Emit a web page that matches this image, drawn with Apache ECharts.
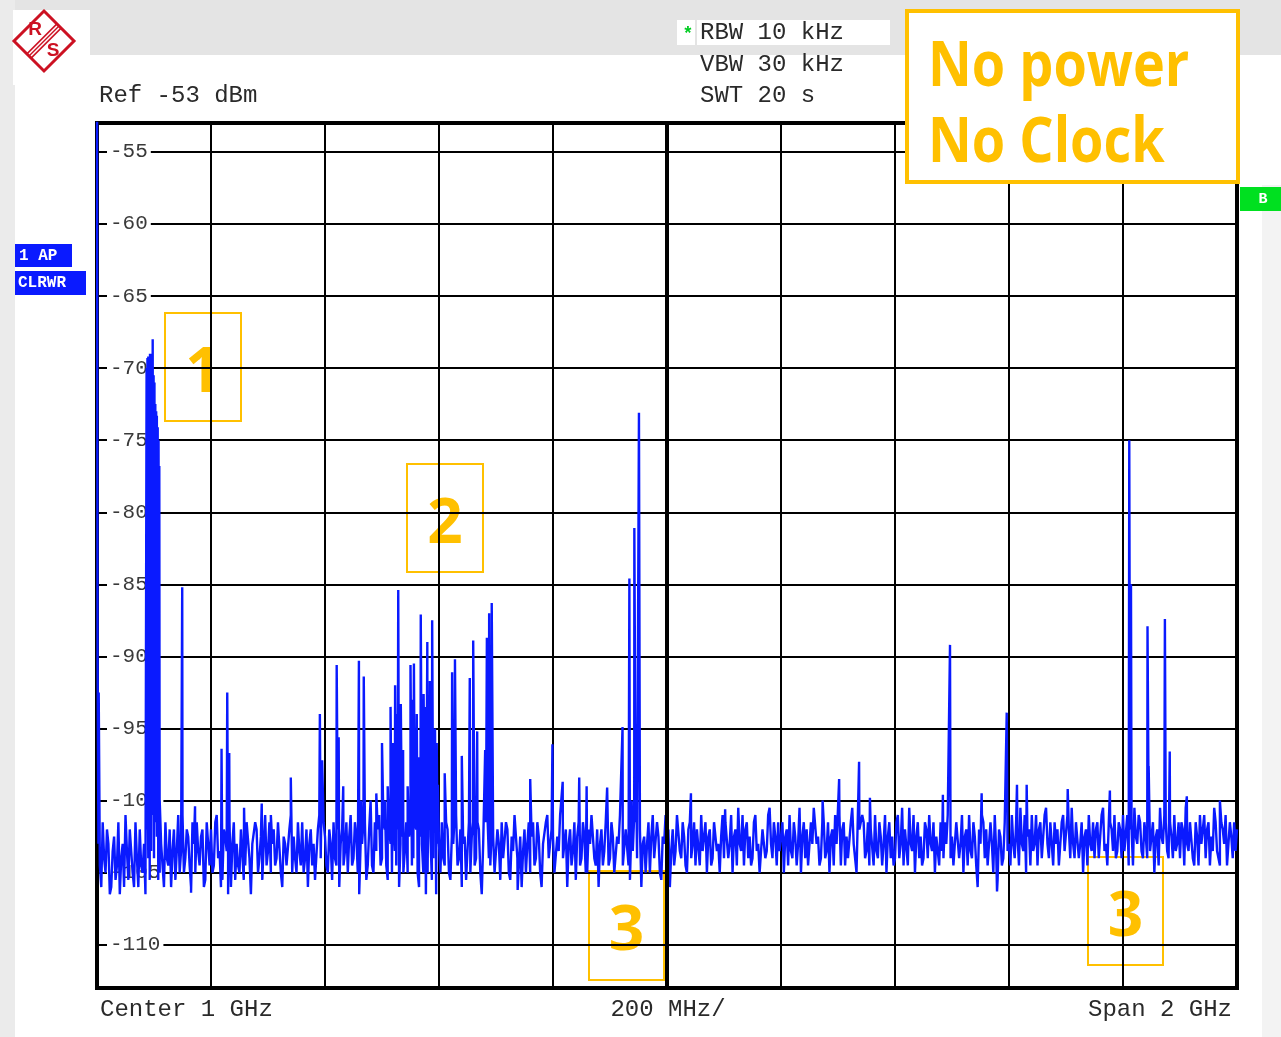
<!DOCTYPE html>
<html><head><meta charset="utf-8">
<script src="https://cdn.jsdelivr.net/npm/echarts@6/dist/echarts.min.js"></script>
<style>html,body{margin:0;padding:0;background:#fff;}#c{width:1281px;height:1037px;}</style>
</head><body><div id="c"></div>
<script>
// Frequency span (MHz) and level range (dBm)
const spanStartMHz = 0;
const spanEndMHz = 2000;
const refLevel = -53;
const bottomLevel = -113;

// Trace floor sampled every 5 MHz, 0 .. 2000 MHz (dBm)
const traceFloor = [
  -48,-104.5,-101.5,-105,-103,-106,-102.5,-104.5,-106.5,-103,-101,-105.5,-103.5,-106,-104,-102,-105,-106.5,-104,-103.5,
  -104,-102.5,-105,-103,-101.5,-104.5,-106,-102,-103.5,-105,-101,-104,-102.5,-106,-103,-101.5,-104.5,-102,-105.5,-103,
  -102,-104.5,-101,-103.5,-105.5,-102.5,-104,-106,-101.5,-103,-105,-102,-104.5,-101.5,-106.5,-103,-102,-104,-105.5,-101,
  -103.5,-105,-102,-104,-101.5,-106,-103,-104.5,-101,-102.5,-105,-103.5,-101.5,-104,-106,-102,-103,-105.5,-101,-104,
  -102.5,-105,-103,-101.5,-104.5,-106,-102,-103.5,-105,-101,-104,-102.5,-106.5,-103,-101.5,-104.5,-102,-105,-103.5,-101,
  -104,-102,-105.5,-103,-101,-104.5,-106,-102.5,-103.5,-105,-101.5,-104,-102,-106,-103,-101.5,-105,-102.5,-104,-106.5,
  -103,-101.5,-104.5,-102,-105.5,-103,-101,-104,-106,-102.5,-103.5,-105,-101.5,-104,-102,-106.5,-103,-101,-104.5,-102.5,
  -105,-103,-101.5,-104,-102,-105.5,-103.5,-101,-104.5,-106,-102,-103,-105,-101.5,-104,-102.5,-106,-103,-101,-104,
  -102.5,-105,-103.5,-101,-104,-106,-102,-103.5,-105.5,-101.5,-104,-102.5,-105,-103,-101,-104.5,-106,-102,-103.5,-101.5,
  -104,-102.5,-105,-103,-101,-104.5,-102,-105.5,-103.5,-101.5,-104,-106,-102.5,-103,-105,-101,-104,-102.5,-105.5,-103,
  -104.5,-106,-102,-103.5,-101,-104,-102.5,-105,-101.5,-103,-104.5,-102,-101,-103.5,-105,-102,-104,-101.5,-103,-102.5,
  -104,-101.5,-103,-105,-102,-100.5,-103.5,-104.5,-101.5,-102.5,-104,-101,-103,-105,-102,-103.5,-100.5,-104,-102.5,-101.5,
  -103.5,-105,-102,-101,-104,-102.5,-103,-105,-101.5,-102,-104.5,-103,-100.5,-102.5,-104,-101.5,-103.5,-105,-102,-101,
  -103,-104.5,-101.5,-102.5,-104,-100.5,-103,-105,-102,-101.5,-103.5,-104.5,-102,-101,-104,-102.5,-103,-105,-101.5,-102.5,
  -104,-101,-103,-104.5,-102,-100.5,-103.5,-105,-101.5,-102.5,-104,-102,-101,-103.5,-105,-102.5,-101.5,-104,-103,-101,
  -102.5,-104.5,-101.5,-103,-105,-102,-101,-104,-102.5,-106,-103,-101.5,-102,-104.5,-103,-101,-105.5,-102.5,-104,-101.5,
  -103,-101,-104,-102.5,-100.5,-103.5,-105,-102,-101,-103,-104.5,-101.5,-102.5,-100.5,-104,-103,-101.5,-102,-104.5,-101,
  -103.5,-102,-100.5,-104,-101.5,-103,-105,-102,-101,-103.5,-104,-101.5,-102.5,-100.5,-103,-104.5,-102,-101,-103.5,-102,
  -101,-103.5,-104.5,-102,-100.5,-103,-101.5,-104,-102.5,-101,-103.5,-105,-102,-100.5,-103,-101.5,-104,-102.5,-101,-103,
  -104,-102,-100.5,-103.5,-101.5,-104.5,-102.5,-101,-103,-104,-101.5,-102.5,-100.5,-103.5,-104.5,-102,-101,-103,-102.5,-101.5,
  -102
];

// Trace floor between the above samples: 2.5, 7.5, ... 1997.5 MHz (dBm)
const traceFloorMid = [
  -103,-106,-104,-102,-106.5,-103.5,-105.5,-101.5,-104,-106,-103.5,-102,-105,-101.5,-106,-104.5,-103,-102,-105.5,-101,
  -101.5,-105.5,-103,-106,-104,-102,-103.5,-105.5,-101,-103.5,-105,-102,-104.5,-101.5,-105,-103.5,-102.5,-106,-101.5,-104.5,
  -105,-101.5,-104,-106,-102,-103.5,-101.5,-103,-105.5,-104.5,-102,-105.5,-101.5,-104,-103,-101.5,-105,-102.5,-103,-104.5,
  -101.5,-103,-104.5,-101.5,-105,-102.5,-104.5,-102,-105,-104,-101.5,-104.5,-105,-102,-103,-104.5,-105.5,-102,-104,-101.5,
  -104.5,-102,-105.5,-104,-102,-103,-104.5,-101.5,-102.5,-104.5,-101.5,-105,-103,-101.5,-105.5,-102,-104.5,-101.5,-102,-104.5,
  -101.5,-104.5,-102,-105,-103.5,-102,-103,-105,-101.5,-102.5,-104.5,-101.5,-105,-102.5,-105,-104,-102,-105.5,-101.5,-103,
  -105,-104,-101.5,-105,-102.5,-101,-104.5,-102,-103,-105.5,-101.5,-102.5,-104.5,-101.5,-105,-103,-101.5,-104,-102,-105,
  -102,-105.5,-104,-101.5,-105,-102.5,-101,-104,-102.5,-103.5,-105,-101.5,-102.5,-104.5,-101.5,-105,-103,-101.5,-104,-102,
  -105,-102.5,-101,-104,-102,-103,-104.5,-101.5,-102.5,-104.5,-101.5,-105,-102,-101,-104,-102,-103,-104.5,-101.5,-104.5,
  -101.5,-105,-102.5,-101,-104.5,-102,-104.5,-102,-101,-104,-102,-103,-105,-101.5,-102.5,-104,-101.5,-105,-102.5,-101,
  -102,-103.5,-104.5,-101,-103.5,-101.5,-104.5,-102,-104,-101.5,-102,-104.5,-103.5,-101.5,-102.5,-104.5,-101.5,-103.5,-105,-101,
  -101.5,-104,-101,-102.5,-104.5,-103,-101,-102,-104,-104.5,-101.5,-103.5,-105,-102,-104,-101,-103,-101.5,-104.5,-103.5,
  -101.5,-102.5,-104.5,-103.5,-101.5,-104.5,-100.5,-102.5,-104,-104.5,-101.5,-100.5,-103,-104.5,-101.5,-104,-101.5,-102.5,-104.5,-103,
  -101,-102,-104.5,-104,-101.5,-103,-105,-102,-101,-104,-101.5,-102,-104.5,-103.5,-101.5,-104.5,-101,-102.5,-104,-104.5,
  -101.5,-104,-100.5,-102,-104.5,-103,-101,-102.5,-104,-104.5,-101.5,-104,-103,-101.5,-102.5,-104.5,-103.5,-101.5,-101,-104,
  -104.5,-101.5,-104,-101,-102.5,-104.5,-103.5,-101.5,-104.5,-102,-101,-104,-104.5,-101.5,-105,-103.5,-102,-104.5,-101.5,-103.5,
  -104.5,-103,-101.5,-104.5,-103,-101,-102.5,-104.5,-103.5,-101,-102,-104,-101,-103,-101.5,-104.5,-103,-104.5,-101.5,-103.5,
  -101,-104,-103,-101.5,-104,-101.5,-102.5,-104.5,-103,-101.5,-102,-104,-101,-103.5,-104.5,-101.5,-103.5,-104,-101.5,-104,
  -103.5,-101,-102,-104.5,-102.5,-101,-103.5,-101.5,-104,-103.5,-101.5,-102.5,-104.5,-102.5,-101,-103.5,-101.5,-104,-103.5,-101.5,
  -101.5,-104.5,-103,-101.5,-104,-101.5,-104.5,-103,-101,-102,-104.5,-103.5,-101.5,-104,-101.5,-103,-104.5,-101.5,-104,-103.5
];

// Spurs, clusters and dips: [MHz, dBm]
const spurs = [
  [1,-90],[3,-92.5],
  [87,-70],[87.7,-99],[88.5,-69.3],[89.2,-100],[90,-69.2],[90.8,-98],[91.5,-69.5],[92.3,-101],[93,-69],[93.8,-99],
  [94.5,-69.3],[95.3,-100],[96,-69],[96.8,-98],[97.7,-68],[98.5,-100],[99.3,-70.5],[100,-99],[100.8,-71],[101.5,-100],
  [102.3,-72.5],[103,-98],[103.8,-73],[104.5,-100],[105,-73.3],[105.8,-99],[106.5,-74.1],[107.2,-101],[108,-75],
  [108.7,-99],[109.3,-76.8],[110,-100],
  [149.5,-85.2],[165,-106.4],[172,-100.4],[218.5,-96.4],[228.5,-92.5],[230,-106.5],[232,-96.7],
  [258,-100.5],[289,-100.2],[305,-101],[340,-98.4],
  [391,-94],[395,-97.2],[420.5,-90.6],[424,-95.6],[432,-99],[459.5,-90.3],[463,-100],[468,-91.4],[480,-100],[490,-99.5],
  [500,-96],[505,-100],[510,-99],[515,-93.5],[519,-96],[523,-92],[526,-94],[528.5,-85.4],[533,-93.3],[537,-96.5],
  [545,-99],[550,-90.6],[553,-93],[556,-90.5],[561,-94],[565,-97],[568,-87.1],[573,-92.6],[575,-93.5],[577,-106.5],
  [579.5,-89],[582,-96],[584,-91.7],[588,-87.5],[590,-95],[593,-95],[596,-96],[598,-98.9],
  [610,-98.1],[623,-91.1],[628,-90.2],[640,-96.9],[654,-91.5],[660,-88.9],[667,-95.2],[681,-96.5],[684,-88.7],
  [688,-87],[692.5,-86.3],[738,-106.2],[760,-98.5],[799,-96.1],[817,-98.7],[846,-98.4],[859,-99],[895,-99.1],
  [922,-94.9],[934,-84.6],[938,-100],[942.7,-81.1],[946,-99],[950.8,-73.1],
  [1005,-106],[1042,-99.5],[1102,-100.6],[1273,-100],[1302,-98.5],[1337,-97.3],[1356,-99.8],[1484,-99.6],
  [1496.5,-89.2],[1545,-106],[1552,-99.5],[1579,-106.3],[1596,-93.9],[1614,-98.9],[1631,-98.9],[1703,-99.2],
  [1777,-99.3],[1811,-75],[1814,-85],[1843,-87.9],[1845,-97.6],[1873.5,-87.4],[1882,-96.6],[1912,-99.7],[1970,-100]
];

const centerMHz = 1000;
const headerLines = ['RBW 10 kHz', 'VBW 30 kHz', 'SWT 20 s'];
const refText = 'Ref -53 dBm';
const footer = ['Center 1 GHz', '200 MHz/', 'Span 2 GHz'];
const traceLabels = ['1 AP', 'CLRWR'];
const noteLines = ['No power', 'No Clock'];

const step = (spanEndMHz - spanStartMHz) / (traceFloor.length - 1);
const traceData = traceFloor.map((v, i) => [spanStartMHz + i * step, v])
  .concat(traceFloorMid.map((v, i) => [spanStartMHz + (i + 0.5) * step, v]))
  .concat(spurs)
  .sort((a, b) => a[0] - b[0]);

const mono = '"Courier New","Liberation Mono",monospace';
const yellow = '#ffc000';
const blue = '#0a1aff';

const chart = echarts.init(document.getElementById('c'), null, {renderer: 'canvas'});

function numBox(x, y, w, h, label) {
  return {
    type: 'group', z: 50, children: [
      {type: 'rect', shape: {x: x, y: y, width: w, height: h}, style: {fill: '#fff', stroke: yellow, lineWidth: 2}},
      {type: 'text', style: {text: label, x: x + w / 2, y: y + h / 2 + 7, fill: yellow,
        font: 'bold 62px "Open Sans", sans-serif', textAlign: 'center', textVerticalAlign: 'middle'}}
    ]
  };
}

chart.setOption({
  animation: false,
  backgroundColor: '#ffffff',
  grid: {left: 97, top: 123, width: 1140, height: 865, show: true, borderColor: '#000', borderWidth: 4, backgroundColor: '#fff'},
  xAxis: {
    type: 'value', min: spanStartMHz, max: spanEndMHz, interval: 200,
    axisLine: {show: false}, axisTick: {show: false}, axisLabel: {show: false},
    splitLine: {show: true, lineStyle: {color: '#000', width: 2}}
  },
  yAxis: {
    type: 'value', min: bottomLevel, max: refLevel, splitNumber: 12,
    axisLine: {show: false}, axisTick: {show: false},
    splitLine: {show: true, lineStyle: {color: '#000', width: 2}},
    axisLabel: {
      inside: true, margin: 10, color: '#3a3a3a', fontFamily: mono, fontSize: 21,
      backgroundColor: '#fff', padding: [0, 3, 0, 3],
      showMinLabel: false, showMaxLabel: false,
      formatter: v => (v % 5 === 0 ? String(v) : '')
    }
  },
  series: [
    {
      type: 'line', data: [], z: 1, silent: true,
      markLine: {symbol: 'none', silent: true, label: {show: false},
        lineStyle: {color: '#000', width: 4, type: 'solid'}, data: [{xAxis: centerMHz}]}
    },
    {
      type: 'line', data: traceData, z: 3, showSymbol: false, symbol: 'none', silent: true,
      lineStyle: {color: blue, width: 2.4}, clip: true
    }
  ],
  graphic: [
    // page bands
    {type: 'rect', z: -10, shape: {x: 0, y: 0, width: 1281, height: 55}, style: {fill: '#e4e4e4'}},
    {type: 'rect', z: -10, shape: {x: 0, y: 0, width: 15, height: 1037}, style: {fill: '#ebebeb'}},
    {type: 'rect', z: -10, shape: {x: 1262, y: 185, width: 19, height: 852}, style: {fill: '#f3f3f3'}},
    {type: 'rect', z: -9, shape: {x: 13, y: 10, width: 77, height: 75}, style: {fill: '#fff'}},
    {type: 'rect', z: -9, shape: {x: 677, y: 20, width: 18, height: 25}, style: {fill: '#fff'}},
    {type: 'rect', z: -9, shape: {x: 697, y: 20, width: 193, height: 25}, style: {fill: '#fff'}},
    // logo
    {type: 'polygon', z: 10, shape: {points: [[44, 11], [74, 41], [44, 71], [14, 41]]},
      style: {fill: '#fff', stroke: '#cc1122', lineWidth: 3}},
    {type: 'line', z: 10, shape: {x1: 56.9, y1: 23.9, x2: 26.9, y2: 53.9}, style: {stroke: '#cc1122', lineWidth: 1.5}},
    {type: 'line', z: 10, shape: {x1: 59, y1: 26, x2: 29, y2: 56}, style: {stroke: '#cc1122', lineWidth: 1.5}},
    {type: 'line', z: 10, shape: {x1: 61.1, y1: 28.1, x2: 31.1, y2: 58.1}, style: {stroke: '#cc1122', lineWidth: 1.5}},
    {type: 'text', z: 10, style: {text: 'R', x: 35, y: 30, fill: '#cc1122', font: 'bold 19px "Liberation Sans", sans-serif', textAlign: 'center', textVerticalAlign: 'middle'}},
    {type: 'text', z: 10, style: {text: 'S', x: 53, y: 51, fill: '#cc1122', font: 'bold 19px "Liberation Sans", sans-serif', textAlign: 'center', textVerticalAlign: 'middle'}},
    // header texts
    {type: 'text', z: 10, style: {text: '*', x: 688, y: 34, fill: '#00cc22', font: 'bold 18px ' + mono, textAlign: 'center', textVerticalAlign: 'middle'}},
    {type: 'text', z: 10, style: {text: headerLines[0], x: 700, y: 33, fill: '#2a2a2a', font: '24px ' + mono, textVerticalAlign: 'middle'}},
    {type: 'text', z: 10, style: {text: headerLines[1], x: 700, y: 65, fill: '#2a2a2a', font: '24px ' + mono, textVerticalAlign: 'middle'}},
    {type: 'text', z: 10, style: {text: headerLines[2], x: 700, y: 96, fill: '#2a2a2a', font: '24px ' + mono, textVerticalAlign: 'middle'}},
    {type: 'text', z: 10, style: {text: refText, x: 99, y: 96, fill: '#2a2a2a', font: '24px ' + mono, textVerticalAlign: 'middle'}},
    {type: 'text', z: 10, style: {text: footer[0], x: 100, y: 1010, fill: '#2a2a2a', font: '24px ' + mono, textVerticalAlign: 'middle'}},
    {type: 'text', z: 10, style: {text: footer[1], x: 668, y: 1010, fill: '#2a2a2a', font: '24px ' + mono, textAlign: 'center', textVerticalAlign: 'middle'}},
    {type: 'text', z: 10, style: {text: footer[2], x: 1232, y: 1010, fill: '#2a2a2a', font: '24px ' + mono, textAlign: 'right', textVerticalAlign: 'middle'}},
    // trace labels
    {type: 'rect', z: 10, shape: {x: 15, y: 244, width: 57, height: 23}, style: {fill: blue}},
    {type: 'rect', z: 10, shape: {x: 15, y: 271, width: 71, height: 24}, style: {fill: blue}},
    {type: 'text', z: 11, style: {text: traceLabels[0], x: 19, y: 256, fill: '#fff', font: 'bold 16px ' + mono, textVerticalAlign: 'middle'}},
    {type: 'text', z: 11, style: {text: traceLabels[1], x: 18, y: 283, fill: '#fff', font: 'bold 16px ' + mono, textVerticalAlign: 'middle'}},
    // green B
    {type: 'rect', z: 10, shape: {x: 1240, y: 187, width: 41, height: 24}, style: {fill: '#00e020'}},
    {type: 'text', z: 11, style: {text: 'B', x: 1263, y: 199, fill: '#fff', font: 'bold 15px ' + mono, textAlign: 'center', textVerticalAlign: 'middle'}},
    // note box
    {type: 'rect', z: 40, shape: {x: 907, y: 11, width: 331, height: 171}, style: {fill: '#fff', stroke: yellow, lineWidth: 4}},
    {type: 'text', z: 41, x: 928, y: 68, scaleX: 0.87, style: {text: noteLines[0], x: 0, y: 0, fill: yellow, font: 'bold 62px "Open Sans", sans-serif', textVerticalAlign: 'middle'}},
    {type: 'text', z: 41, x: 928, y: 144, scaleX: 0.87, style: {text: noteLines[1], x: 0, y: 0, fill: yellow, font: 'bold 62px "Open Sans", sans-serif', textVerticalAlign: 'middle'}},
    numBox(165, 313, 76, 108, '1'),
    numBox(407, 464, 76, 108, '2'),
    numBox(589, 871, 75, 109, '3'),
    numBox(1088, 857, 75, 108, '3')
  ]
});
</script></body></html>
